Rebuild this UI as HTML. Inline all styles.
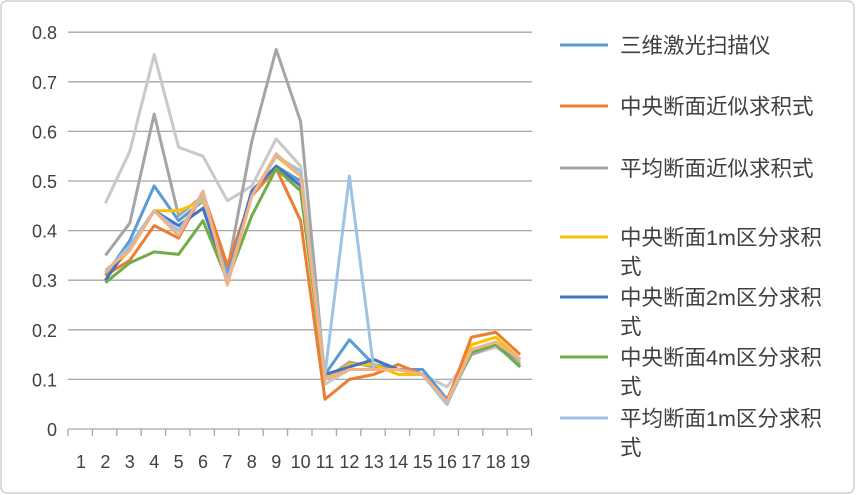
<!DOCTYPE html>
<html><head><meta charset="utf-8"><style>
body{margin:0;background:#fff;}
svg{display:block;font-family:"Liberation Sans","Noto Sans CJK SC",sans-serif;}
</style></head><body>
<svg id="c" width="856" height="495" xmlns="http://www.w3.org/2000/svg">
<rect x="1" y="1" width="853" height="492" rx="6" fill="#fff" stroke="#d0d0d0" stroke-width="1.5"/>
</svg>
<script>
const s=document.getElementById('c');const NS='http://www.w3.org/2000/svg';
function el(t,a,txt){const e=document.createElementNS(NS,t);for(const k in a)e.setAttribute(k,a[k]);if(txt!=null)e.textContent=txt;s.appendChild(e);return e;}
const Y=v=>429-v*496, X=i=>325+(i-11)*24.4;
for(let k=0;k<=8;k++){const y=Y(k/10);el('line',{x1:68,x2:532,y1:y,y2:y,stroke:'#a6a6a6','stroke-width':1.3});
el('text',{x:57,y:y+7,'text-anchor':'end','font-size':18,fill:'#404040'},k==0?'0':(k/10).toFixed(1));}
for(let i=1;i<=20;i++){const x=68+(i-1)*24.4;el('line',{x1:x,x2:x,y1:429,y2:436,stroke:'#a6a6a6','stroke-width':1.3});}
for(let i=1;i<=19;i++)el('text',{x:X(i),y:468,'text-anchor':'middle','font-size':18,fill:'#404040'},String(i));
const D=[
['#c9c9c9',[.455,.56,.755,.568,.55,.46,.49,.585,.53,.09,.12,.12,.12,.11,.085,.15,.165,.135]],
['#a5a5a5',[.35,.415,.635,.43,.47,.32,.58,.765,.62,.1,.135,.125,.12,.11,.06,.15,.17,.13]],
['#5b9bd5',[.31,.38,.49,.42,.46,.31,.48,.53,.5,.11,.18,.13,.12,.12,.06,.16,.17,.14]],
['#ffc000',[.31,.36,.44,.44,.46,.3,.47,.55,.51,.1,.13,.13,.11,.11,.05,.17,.185,.14]],
['#ed7d31',[.31,.34,.41,.385,.475,.33,.47,.525,.42,.06,.1,.11,.13,.11,.055,.185,.195,.15]],
['#4472c4',[.3,.37,.44,.41,.445,.3,.48,.53,.49,.11,.125,.14,.12,.11,.05,.16,.175,.14]],
['#70ad47',[.295,.335,.357,.352,.42,.3,.43,.525,.48,.1,.12,.12,.12,.11,.05,.155,.17,.125]],
['#9dc3e6',[.315,.37,.44,.4,.47,.3,.47,.55,.52,.11,.51,.12,.12,.11,.05,.16,.175,.14]],
['#f4b183',[.32,.36,.44,.39,.48,.29,.47,.555,.51,.1,.12,.12,.12,.11,.055,.16,.175,.14]]];
for(const [c,v] of D)el('polyline',{points:v.map((d,j)=>X(j+2)+','+Y(d)).join(' '),fill:'none',stroke:c,'stroke-width':3,'stroke-linejoin':'round'});
const L=[['#5b9bd5',['三维激光扫描仪'],45],['#ed7d31',['中央断面近似求积式'],106],['#a5a5a5',['平均断面近似求积式'],168],
['#ffc000',['中央断面1m区分求积','式'],237],['#4472c4',['中央断面2m区分求积','式'],297],['#70ad47',['中央断面4m区分求积','式'],357],['#9dc3e6',['平均断面1m区分求积','式'],418]];
for(const [c,t,y] of L){el('line',{x1:560,x2:608,y1:y,y2:y,stroke:c,'stroke-width':3});
t.forEach((u,j)=>el('text',{x:620,y:y+8+j*29,'font-size':21.5,fill:'#404040'},u));}
</script>
</body></html>
